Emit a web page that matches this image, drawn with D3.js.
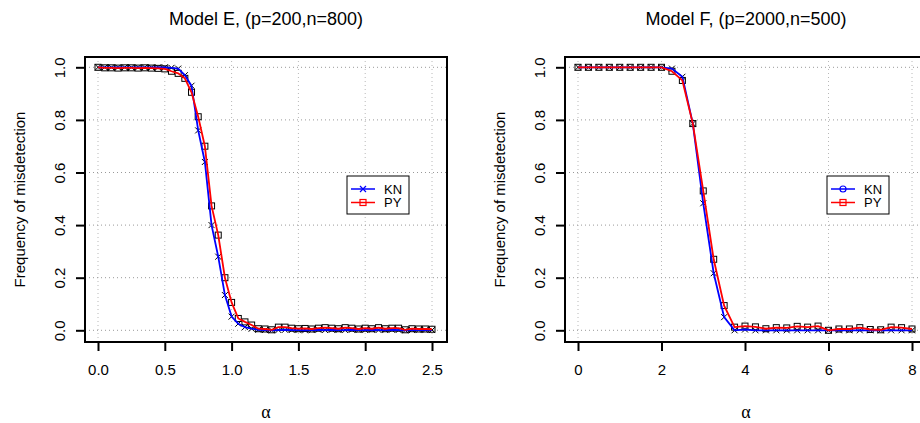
<!DOCTYPE html>
<html>
<head>
<meta charset="utf-8">
<script src="https://cdn.jsdelivr.net/npm/d3@7"></script>
<style>
  body { margin: 0; background: #fff; }
  text { font-family: "Liberation Sans", Arial, sans-serif; fill: #000; }
</style>
</head>
<body>
<div id="chart"></div>
<script>
//Model E data (alpha step 0.05)
var alphaE = [0.00,0.05,0.10,0.15,0.20,0.25,0.30,0.35,0.40,0.45,0.50,0.55,0.60,0.65,0.70,0.75,0.80,0.85,0.90,0.95,
  1.00,1.05,1.10,1.15,1.20,1.25,1.30,1.35,1.40,1.45,1.50,1.55,1.60,1.65,1.70,1.75,1.80,1.85,1.90,1.95,
  2.00,2.05,2.10,2.15,2.20,2.25,2.30,2.35,2.40,2.45,2.50];
var knE = [1,1,1,1,1,1,1,1,1,1,1,0.998,0.995,0.97,0.93,0.76,0.64,0.40,0.28,0.134,
  0.052,0.025,0.012,0.006,0.002,0.001,0.000,0.001,0.002,0.001,0.001,0.000,0.001,0.002,0.001,0.002,0.001,0.001,0.002,0.001,
  0.001,0.002,0.001,0.001,0.002,0.001,0.000,0.001,0.001,0.001,0.001];
var pyE = [1,0.998,0.998,0.997,0.998,0.998,0.997,0.998,0.997,0.996,0.994,0.985,0.977,0.958,0.905,0.812,0.70,0.473,0.362,0.20,
  0.106,0.045,0.032,0.020,0.006,0.005,0.002,0.012,0.012,0.008,0.006,0.007,0.005,0.008,0.010,0.008,0.006,0.010,0.008,0.005,
  0.008,0.006,0.010,0.006,0.008,0.008,0.002,0.006,0.005,0.005,0.004];

//Model F data (alpha step 0.25)
var alphaF = [0,0.25,0.5,0.75,1,1.25,1.5,1.75,2,2.25,2.5,2.75,3,3.25,3.5,3.75,4,4.25,4.5,4.75,5,5.25,5.5,5.75,6,6.25,6.5,6.75,7,7.25,7.5,7.75,8];
var knF = [1,1,1,1,1,1,1,1,1,0.995,0.964,0.786,0.483,0.217,0.05,0.0,0.003,0,0,0,0,0,0,0,0,0,0,0,0,0,0,0,0];
var pyF = [1,1,1,1,1,1,1,1,1,0.985,0.95,0.786,0.53,0.27,0.094,0.012,0.016,0.013,0.006,0.010,0.009,0.015,0.012,0.016,0.0,0.005,0.005,0.010,0.003,0.002,0.012,0.010,0.005];

var yTicks = [0, 0.2, 0.4, 0.6, 0.8, 1.0];
var xTicksE = [0, 0.5, 1.0, 1.5, 2.0, 2.5];
var xTicksF = [0, 2, 4, 6, 8];

var svg = d3.select('#chart').append('svg')
  .attr('width', 920)
  .attr('height', 423);

drawPanel({ left: 85, title: 'Model E, (p=200,n=800)', alpha: alphaE, kn: knE, py: pyE,
  xmax: 2.5, xTicks: xTicksE, fmt: d3.format('.1f'), knLegend: 'x' });
drawPanel({ left: 565, title: 'Model F, (p=2000,n=500)', alpha: alphaF, kn: knF, py: pyF,
  xmax: 8, xTicks: xTicksF, fmt: d3.format('d'), knLegend: 'o' });

function drawPanel(p) {
  var top = 57, boxW = 362, boxH = 285;
  var x = d3.scaleLinear().domain([0, p.xmax]).range([p.left + 13, p.left + boxW - 15]);
  var y = d3.scaleLinear().domain([0, 1]).range([330.3, 67.3]);
  var g = svg.append('g');

  //grid
  g.selectAll('line.vgrid').data(p.xTicks).enter().append('line')
    .attr('x1', function(d) { return x(d); }).attr('x2', function(d) { return x(d); })
    .attr('y1', top).attr('y2', top + boxH)
    .attr('stroke', '#b8b8b8').attr('stroke-dasharray', '1,3');
  g.selectAll('line.hgrid').data(yTicks).enter().append('line')
    .attr('y1', function(d) { return y(d); }).attr('y2', function(d) { return y(d); })
    .attr('x1', p.left).attr('x2', p.left + boxW)
    .attr('stroke', '#999').attr('stroke-dasharray', '1,3');

  //markers (black)
  var pts = p.alpha.map(function(a, i) { return { a: a, kn: p.kn[i], py: p.py[i] }; });
  g.selectAll('path.xmark').data(pts).enter().append('path')
    .attr('d', function(d) {
      var cx = x(d.a), cy = y(d.kn), s = 3;
      return 'M' + (cx - s) + ',' + (cy - s) + 'L' + (cx + s) + ',' + (cy + s) +
        'M' + (cx - s) + ',' + (cy + s) + 'L' + (cx + s) + ',' + (cy - s);
    })
    .attr('stroke', '#000').attr('stroke-width', 1).attr('fill', 'none');
  g.selectAll('rect.sq').data(pts).enter().append('rect')
    .attr('x', function(d) { return x(d.a) - 3; })
    .attr('y', function(d) { return y(d.py) - 3; })
    .attr('width', 6).attr('height', 6)
    .attr('stroke', '#000').attr('stroke-width', 1).attr('fill', 'none');

  //lines
  var lineKN = d3.line().x(function(d) { return x(d.a); }).y(function(d) { return y(d.kn); });
  var linePY = d3.line().x(function(d) { return x(d.a); }).y(function(d) { return y(d.py); });
  g.append('path').datum(pts).attr('d', lineKN)
    .attr('fill', 'none').attr('stroke', '#0000ff').attr('stroke-width', 1.8);
  g.append('path').datum(pts).attr('d', linePY)
    .attr('fill', 'none').attr('stroke', '#ff0000').attr('stroke-width', 1.8);

  //box
  g.append('rect').attr('x', p.left).attr('y', top).attr('width', boxW).attr('height', boxH)
    .attr('fill', 'none').attr('stroke', '#000').attr('stroke-width', 2);

  //x axis
  var xa = g.append('g').attr('transform', 'translate(0,' + (top + boxH) + ')')
    .call(d3.axisBottom(x).tickValues(p.xTicks).tickFormat(p.fmt).tickSize(9).tickPadding(13));
  xa.select('.domain').attr('stroke-width', 2).attr('d', 'M' + x(0) + ',0H' + x(p.xmax));
  xa.selectAll('.tick line').attr('stroke-width', 2);
  xa.selectAll('text').style('font-size', '15px').style('font-family', '"Liberation Sans", Arial, sans-serif');

  //y axis
  var ya = g.append('g').attr('transform', 'translate(' + p.left + ',0)')
    .call(d3.axisLeft(y).tickValues(yTicks).tickFormat(d3.format('.1f')).tickSize(9).tickPadding(0));
  ya.select('.domain').attr('stroke-width', 2).attr('d', 'M0,' + y(0) + 'V' + y(1));
  ya.selectAll('.tick line').attr('stroke-width', 2);
  ya.selectAll('text')
    .attr('x', 0).attr('dy', null)
    .attr('transform', 'translate(-20,0) rotate(-90)')
    .attr('text-anchor', 'middle')
    .style('font-size', '15px').style('font-family', '"Liberation Sans", Arial, sans-serif');

  //titles and labels
  var cx = p.left + boxW / 2;
  g.append('text').attr('x', cx).attr('y', 25).attr('text-anchor', 'middle')
    .style('font-size', '18px').text(p.title);
  g.append('text').attr('x', cx).attr('y', 418).attr('text-anchor', 'middle')
    .style('font-family', '"Liberation Serif", serif').style('font-size', '18px').text('α');
  g.append('text').attr('transform', 'translate(' + (p.left - 60) + ',' + (top + boxH / 2) + ') rotate(-90)')
    .attr('text-anchor', 'middle').style('font-size', '15px').text('Frequency of misdetection');

  //legend
  var lx = p.left + 262, ly = 176;
  var lg = g.append('g').attr('transform', 'translate(' + lx + ',' + ly + ')');
  lg.append('rect').attr('width', 62).attr('height', 38)
    .attr('fill', '#fff').attr('stroke', '#000').attr('stroke-width', 1);
  var items = [{ name: 'KN', col: '#0000ff', mark: p.knLegend }, { name: 'PY', col: '#ff0000', mark: 's' }];
  items.forEach(function(it, i) {
    var ry = 13 + i * 13.5;
    lg.append('line').attr('x1', 4).attr('x2', 28).attr('y1', ry).attr('y2', ry)
      .attr('stroke', it.col).attr('stroke-width', 1.5);
    if (it.mark === 'x') {
      lg.append('path').attr('d', 'M13,' + (ry - 3) + 'L19,' + (ry + 3) + 'M13,' + (ry + 3) + 'L19,' + (ry - 3))
        .attr('stroke', it.col).attr('stroke-width', 1.2);
    } else if (it.mark === 'o') {
      lg.append('circle').attr('cx', 16).attr('cy', ry).attr('r', 3)
        .attr('fill', 'none').attr('stroke', it.col).attr('stroke-width', 1.2);
    } else {
      lg.append('rect').attr('x', 13).attr('y', ry - 3).attr('width', 6).attr('height', 6)
        .attr('fill', 'none').attr('stroke', it.col).attr('stroke-width', 1.2);
    }
    lg.append('text').attr('x', 37).attr('y', ry + 4.5).style('font-size', '13px').text(it.name);
  });
}
</script>
</body>
</html>
